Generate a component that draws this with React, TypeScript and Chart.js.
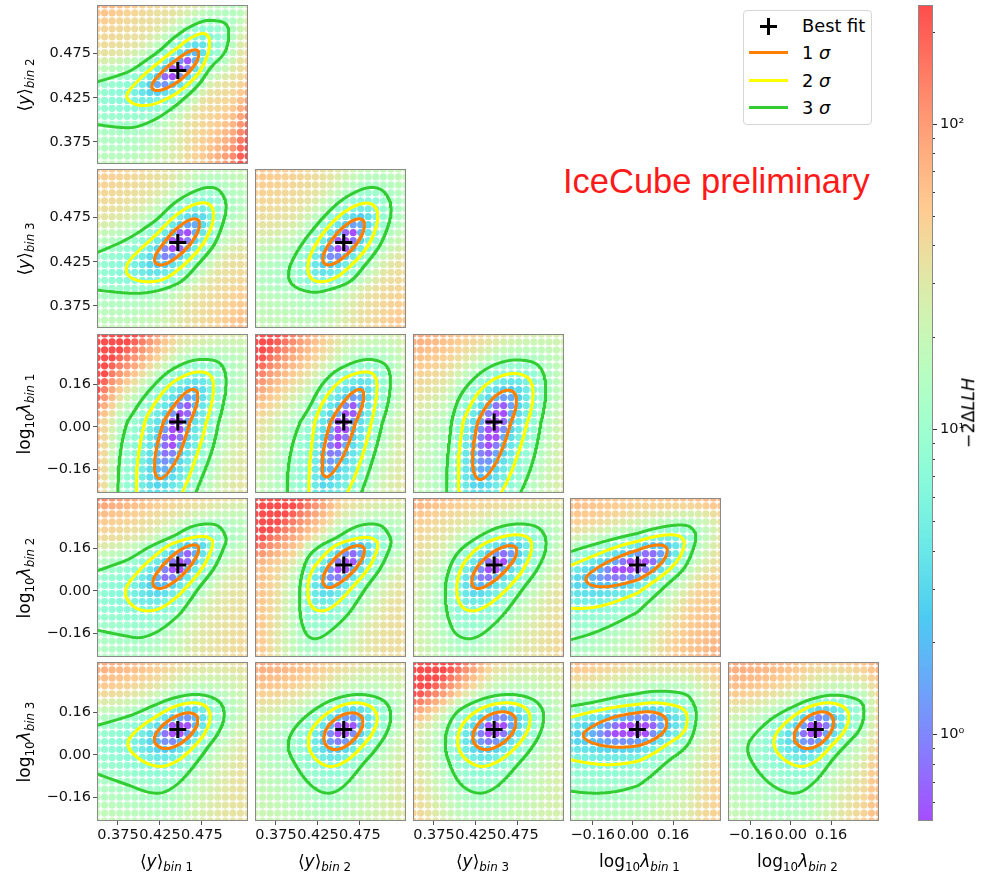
import React, { useEffect, useRef } from "react";
import { Chart, registerables } from "chart.js";

Chart.register(...registerables);

/* ---------------- scan parameters ---------------- */
// order: <y>bin1, <y>bin2, <y>bin3, log10 λ bin1, log10 λ bin2, log10 λ bin3
const paramKinds = ["y", "y", "y", "lambda", "lambda", "lambda"];
const paramBins = ["1", "2", "3", "1", "2", "3"];
const bestFit = [0.4463, 0.4558, 0.4467, 0.018, 0.097, 0.095];

const yMeanRange = [0.35, 0.53];
const logLambdaRange = [-0.25, 0.35];
const yMeanTicks = [0.375, 0.425, 0.475];
const yMeanTickLabels = ["0.375", "0.425", "0.475"];
const logLambdaTicks = [-0.16, 0, 0.16];
const logLambdaTickLabels = ["\u22120.16", "0.00", "0.16"];
const scanPointsPerAxis = 21;

// [x parameter, y parameter] of every panel, row by row
const panelPairs: [number, number][] = [
  [0, 1],
  [0, 2], [1, 2],
  [0, 3], [1, 3], [2, 3],
  [0, 4], [1, 4], [2, 4], [3, 4],
  [0, 5], [1, 5], [2, 5], [3, 5], [4, 5],
];

// reach of each confidence contour from the best fit: [left, right, down, up]
const sigma1Reach = [
  [0.031, 0.025, 0.0227, 0.0235],
  [0.0278, 0.0259, 0.0253, 0.0269],
  [0.025, 0.0247, 0.0253, 0.0269],
  [0.0278, 0.0238, 0.214, 0.123],
  [0.0259, 0.0238, 0.208, 0.123],
  [0.0257, 0.0267, 0.217, 0.12],
  [0.0298, 0.025, 0.0886, 0.0757],
  [0.025, 0.0247, 0.0848, 0.0731],
  [0.0266, 0.0271, 0.0886, 0.0731],
  [0.205, 0.119, 0.0821, 0.0757],
  [0.028, 0.0238, 0.0719, 0.0632],
  [0.0238, 0.0229, 0.0757, 0.0632],
  [0.0253, 0.026, 0.0757, 0.067],
  [0.215, 0.117, 0.0666, 0.067],
  [0.0842, 0.0727, 0.0719, 0.067],
];
const sigma2Reach = [
  [0.0608, 0.0381, 0.0397, 0.042],
  [0.0615, 0.0426, 0.0443, 0.0451],
  [0.0429, 0.0405, 0.0443, 0.0447],
  [0.0496, 0.0426, 0.36, 0.189],
  [0.0417, 0.0397, 0.352, 0.189],
  [0.0429, 0.0465, 0.36, 0.183],
  [0.0623, 0.0417, 0.173, 0.108],
  [0.0429, 0.0405, 0.173, 0.1045],
  [0.0445, 0.0449, 0.173, 0.114],
  [0.4, 0.186, 0.164, 0.114],
  [0.0596, 0.0387, 0.139, 0.101],
  [0.0423, 0.0398, 0.139, 0.101],
  [0.0435, 0.0429, 0.139, 0.101],
  [0.44, 0.198, 0.1325, 0.101],
  [0.165, 0.133, 0.139, 0.101],
];
const sigma3Reach = [
  [0.155, 0.0608, 0.0647, 0.0568],
  [0.131, 0.0577, 0.0575, 0.0625],
  [0.0659, 0.0565, 0.0563, 0.0625],
  [0.0715, 0.0577, 0.49, 0.236],
  [0.0676, 0.0557, 0.485, 0.236],
  [0.0567, 0.0616, 0.49, 0.234],
  [0.155, 0.0577, 0.274, 0.155],
  [0.0528, 0.0565, 0.278, 0.155],
  [0.0584, 0.062, 0.278, 0.155],
  [0.8, 0.232, 0.29, 0.151],
  [0.143, 0.0554, 0.24, 0.1325],
  [0.0664, 0.056, 0.24, 0.1325],
  [0.0584, 0.059, 0.24, 0.1325],
  [0.87, 0.234, 0.24, 0.145],
  [0.269, 0.1935, 0.24, 0.13],
];
// −2ΔLLH at the panel edges on the best-fit row / column: [left, right, bottom, top]
const edgeLLH: (number | null)[][] = [
  [null, 50, 28, 35],
  [null, 28, 22, 30],
  [22, 25, 22, 28],
  [70, 28, null, 40],
  [40, 28, null, 30],
  [25, 28, null, 38],
  [null, 28, 20, 50],
  [70, 25, 20, 45],
  [35, 30, 20, 50],
  [null, 40, 22, 50],
  [null, 28, 20, 45],
  [20, 25, 20, 45],
  [35, 25, 20, 45],
  [null, 35, 20, 45],
  [18, 45, 20, 50],
];
// −2ΔLLH in the panel corners: [top-left, top-right, bottom-left, bottom-right]
// (saturated red corners lie above the colour-scale maximum)
const cornerLLH = [
  [80, 24, 28, 400],
  [55, 25, 22, 70],
  [60, 22, 20, 60],
  [3000, 28, 60, 35],
  [700, 30, 22, 35],
  [90, 28, 22, 30],
  [130, 35, 22, 45],
  [3000, 35, 60, 40],
  [90, 40, 28, 45],
  [70, 80, 20, 80],
  [90, 40, 22, 35],
  [90, 40, 22, 30],
  [1500, 40, 50, 25],
  [70, 70, 20, 50],
  [90, 90, 22, 70],
];
// correlation of the inner (1σ) and outer (3σ) contours
const tilt1 = [0.82, 0.78, 0.75, 0.78, 0.8, 0.65, 0.78, 0.72, 0.72, 0.7, 0.55, 0.45, 0.4, 0.35, 0.4];
const tilt3 = [0.72, 0.65, 0.6, 0.55, 0.55, 0.45, 0.62, 0.58, 0.5, 0.65, 0.4, 0.35, 0.3, 0.35, 0.45];

const sigmaLevels = [2.3, 6.18, 11.83];
const sigmaNames = ["1", "2", "3"];
const sigmaColors = ["#ff8000", "#ffff00", "#33cc33"];

const colorbarRange = [0.52, 245];
const colorbarMajor = [1, 10, 100];
const colorbarMajorLabels = ["10\u2070", "10\u00b9", "10\u00b2"];
const colorbarMinor = [0.6, 0.7, 0.8, 0.9, 2, 3, 4, 5, 6, 7, 8, 9, 20, 30, 40, 50, 60, 70, 80, 90, 200];

/* ---------------- layout ---------------- */
const COL_LEFT = [97, 255, 413, 570, 728];
const ROW_TOP = [5, 169, 334, 498, 662];
const PANEL_W = 151;
const PANEL_H = 159;
const X_AXIS_H = 32;
const CB_LEFT = 918;
const CB_TOP = 5;
const CB_BAR_W = 15;
const CB_W = 60;
const CB_H = 816;
const FONT = "'DejaVu Sans', sans-serif";

/* ---------------- helpers ---------------- */
const rangeOf = (i: number) => (paramKinds[i] === "y" ? yMeanRange : logLambdaRange);
const ticksOf = (i: number) => (paramKinds[i] === "y" ? yMeanTicks : logLambdaTicks);
const tickLabelsOf = (i: number) => (paramKinds[i] === "y" ? yMeanTickLabels : logLambdaTickLabels);

const R_LEVELS = sigmaLevels.map((l) => Math.sqrt(l / sigmaLevels[0]));

function llhColor(v: number) {
  const lo = Math.log10(colorbarRange[0]);
  const hi = Math.log10(colorbarRange[1]);
  const c = Math.min(1, Math.max(0, (Math.log10(Math.max(v, 1e-9)) - lo) / (hi - lo)));
  // matplotlib "rainbow" colormap, drawn at 70 % opacity on white
  const r = Math.min(1, Math.abs(2 * c - 0.5));
  const g = Math.sin(Math.PI * c);
  const b = Math.cos((Math.PI * c) / 2);
  const mix = (t: number) => Math.round((0.7 * t + 0.3) * 255);
  return `rgb(${mix(r)},${mix(g)},${mix(b)})`;
}

function tiltAt(ue: number, ve: number, t1: number, t3: number) {
  const r = Math.sqrt(Math.max(0, (ue * ue - 2 * t1 * ue * ve + ve * ve) / (1 - t1 * t1)));
  const a = Math.min(1, Math.max(0, (r - 1) / (R_LEVELS[2] - 1)));
  let rho = t1 + (t3 - t1) * a;
  if (r > 4) rho *= Math.exp(-((r - 4) ** 2) / 10);
  return rho;
}

// monotone cubic (Fritsch–Carlson) profile through the contour reaches
function monotoneProfile(xs: number[], ys: number[]) {
  const n = xs.length;
  const h: number[] = [];
  const d: number[] = [];
  for (let i = 0; i < n - 1; i++) {
    h.push(xs[i + 1] - xs[i]);
    d.push((ys[i + 1] - ys[i]) / h[i]);
  }
  const m = new Array(n).fill(0);
  m[0] = d[0];
  m[n - 1] = d[n - 2];
  for (let i = 1; i < n - 1; i++) {
    if (d[i - 1] * d[i] <= 0) m[i] = 0;
    else {
      const w1 = 2 * h[i] + h[i - 1];
      const w2 = h[i] + 2 * h[i - 1];
      m[i] = (w1 + w2) / (w1 / d[i - 1] + w2 / d[i]);
    }
  }
  return (x: number) => {
    if (x >= xs[n - 1]) return ys[n - 1] + m[n - 1] * (x - xs[n - 1]);
    let i = 0;
    while (x > xs[i + 1]) i++;
    const t = (x - xs[i]) / h[i];
    const t2 = t * t;
    const t3 = t2 * t;
    return (
      (2 * t3 - 3 * t2 + 1) * ys[i] +
      (t3 - 2 * t2 + t) * h[i] * m[i] +
      (-2 * t3 + 3 * t2) * ys[i + 1] +
      (t3 - t2) * h[i] * m[i + 1]
    );
  };
}

// −2ΔLLH surface of one panel
function buildSurface(p: number) {
  const [xi, yi] = panelPairs[p];
  const bx = bestFit[xi];
  const by = bestFit[yi];
  const xr = rangeOf(xi);
  const yr = rangeOf(yi);
  const edgeDist = [bx - xr[0], xr[1] - bx, by - yr[0], yr[1] - by];
  const t1 = tilt1[p];
  const t3 = tilt3[p];
  const profiles = [0, 1, 2, 3].map((side) => {
    const d1 = sigma1Reach[p][side];
    const d2 = sigma2Reach[p][side];
    const d3 = sigma3Reach[p][side];
    const xs = [0, d1, d2, d3];
    const ys = [0, R_LEVELS[0], R_LEVELS[1], R_LEVELS[2]];
    const e = edgeLLH[p][side];
    if (e !== null && edgeDist[side] > d3 * 1.05) {
      let u = 3;
      for (let k = 0; k < 40; k++) {
        const rho = tiltAt(u, 0, t1, t3);
        u = 0.5 * u + 0.5 * Math.sqrt((e / sigmaLevels[0]) * (1 - rho * rho));
      }
      const minU = R_LEVELS[2] + (0.3 * (R_LEVELS[2] - R_LEVELS[1]) * (edgeDist[side] - d3)) / (d3 - d2);
      xs.push(edgeDist[side]);
      ys.push(Math.max(u, minU));
    }
    return monotoneProfile(xs, ys);
  });
  const base = (x: number, y: number) => {
    const dx = x - bx;
    const dy = y - by;
    const ue = dx < 0 ? -profiles[0](-dx) : profiles[1](dx);
    const ve = dy < 0 ? -profiles[2](-dy) : profiles[3](dy);
    const rho = tiltAt(ue, ve, t1, t3);
    return (sigmaLevels[0] * (ue * ue - 2 * rho * ue * ve + ve * ve)) / (1 - rho * rho);
  };
  // log-ratio between the corner readings and the base surface, applied outside the 3σ region only
  const cornerX = [xr[0], xr[1], xr[0], xr[1]];
  const cornerY = [yr[1], yr[1], yr[0], yr[0]];
  const outer = sigmaLevels[2];
  const cornerLog = cornerLLH[p].map((v, k) => Math.log(v / base(cornerX[k], cornerY[k])));
  return (x: number, y: number) => {
    const dx = x - bx;
    const dy = y - by;
    const b0 = base(x, y);
    if (b0 <= outer) return b0;
    const s = Math.min(1, Math.abs(dx) / (dx < 0 ? edgeDist[0] : edgeDist[1]));
    const t = Math.min(1, Math.abs(dy) / (dy < 0 ? edgeDist[2] : edgeDist[3]));
    const k = (dy >= 0 ? 0 : 2) + (dx < 0 ? 0 : 1);
    const gate = Math.min(1, (b0 - outer) / 15);
    return b0 * Math.exp(gate * s * t * cornerLog[k]);
  };
}

function traceContour(surface: (x: number, y: number) => number, bx: number, by: number, sx: number, sy: number, level: number) {
  const pts: { x: number; y: number }[] = [];
  const N = 360;
  const maxR = 700;
  for (let k = 0; k <= N; k++) {
    const th = (2 * Math.PI * k) / N;
    const cx = Math.cos(th) * sx;
    const cy = Math.sin(th) * sy;
    let lo = 0;
    let hi = -1;
    for (let r = 1.5; r <= maxR; r += 1.5) {
      if (surface(bx + r * cx, by + r * cy) >= level) {
        hi = r;
        break;
      }
      lo = r;
    }
    if (hi < 0) hi = maxR;
    else {
      for (let it = 0; it < 14; it++) {
        const mid = 0.5 * (lo + hi);
        if (surface(bx + mid * cx, by + mid * cy) >= level) hi = mid;
        else lo = mid;
      }
    }
    pts.push({ x: bx + hi * cx, y: by + hi * cy });
  }
  return pts;
}

const framePlugin = {
  id: "panelFrame",
  afterDraw(chart: any) {
    const { ctx, chartArea: a } = chart;
    ctx.save();
    ctx.strokeStyle = "#8a8a8a";
    ctx.lineWidth = 1;
    ctx.strokeRect(Math.round(a.left) + 0.5, Math.round(a.top) + 0.5, Math.round(a.right - a.left) - 1, Math.round(a.bottom - a.top) - 1);
    ctx.restore();
  },
};

function axisOptions(i: number, show: boolean, horizontal: boolean) {
  const r = rangeOf(i);
  const ticks = ticksOf(i);
  const labels = tickLabelsOf(i);
  const opts: any = {
    type: "linear",
    min: r[0],
    max: r[1],
    display: show,
    position: horizontal ? "bottom" : "left",
    grid: { display: true, drawOnChartArea: false, drawTicks: true, tickLength: 4, color: "#555", lineWidth: 1 },
    border: { display: false },
    ticks: {
      autoSkip: false,
      maxRotation: 0,
      minRotation: 0,
      padding: 2,
      color: "#111",
      font: { family: FONT, size: 14.5 },
      callback: (v: number) => {
        const k = ticks.findIndex((t) => Math.abs(t - v) < 1e-9);
        return k >= 0 ? labels[k] : "";
      },
    },
    afterBuildTicks: (s: any) => {
      s.ticks = ticks.map((v) => ({ value: v }));
    },
  };
  if (show) {
    opts.afterFit = (s: any) => {
      if (horizontal) {
        s.height = X_AXIS_H;
        s.paddingLeft = 0;
        s.paddingRight = 0;
      } else {
        s.width = COL_LEFT[0];
        s.paddingTop = 0;
        s.paddingBottom = 0;
      }
    };
  }
  return opts;
}

function Panel({ p, row, col }: { p: number; row: number; col: number }) {
  const ref = useRef<HTMLCanvasElement>(null);
  const showY = col === 0;
  const showX = row === 4;
  const left = showY ? 0 : COL_LEFT[col];
  const width = COL_LEFT[col] + PANEL_W - left;
  const top = ROW_TOP[row];
  const height = PANEL_H + (showX ? X_AXIS_H : 0);

  useEffect(() => {
    const [xi, yi] = panelPairs[p];
    const xr = rangeOf(xi);
    const yr = rangeOf(yi);
    const bx = bestFit[xi];
    const by = bestFit[yi];
    const surface = buildSurface(p);

    const dots: { x: number; y: number }[] = [];
    const colors: string[] = [];
    for (let a = 0; a < scanPointsPerAxis; a++) {
      for (let b = 0; b < scanPointsPerAxis; b++) {
        const x = xr[0] + ((xr[1] - xr[0]) * a) / (scanPointsPerAxis - 1);
        const y = yr[0] + ((yr[1] - yr[0]) * b) / (scanPointsPerAxis - 1);
        dots.push({ x, y });
        colors.push(llhColor(surface(x, y)));
      }
    }

    const sx = (xr[1] - xr[0]) / PANEL_W;
    const sy = (yr[1] - yr[0]) / PANEL_H;
    const contourSets = sigmaLevels.map((level, k) => ({
      data: traceContour(surface, bx, by, sx, sy, level),
      showLine: true,
      borderColor: sigmaColors[k],
      borderWidth: 3,
      pointRadius: 0,
      tension: 0,
      borderJoinStyle: "round",
      borderCapStyle: "round",
      order: k + 1,
      clip: 0,
    }));

    const chart = new Chart(ref.current as HTMLCanvasElement, {
      type: "scatter",
      data: {
        datasets: [
          {
            data: dots,
            pointRadius: 3.6,
            pointHoverRadius: 3.6,
            pointBorderWidth: 0,
            pointBackgroundColor: colors,
            order: 10,
            clip: 0,
          },
          ...contourSets,
          {
            data: [{ x: bx, y: by }],
            pointStyle: "cross",
            pointRadius: 8.5,
            pointHoverRadius: 8.5,
            pointBorderWidth: 3,
            pointBorderColor: "#000",
            pointBackgroundColor: "#000",
            order: 0,
            clip: false,
          },
        ] as any,
      },
      options: {
        animation: false,
        responsive: false,
        maintainAspectRatio: false,
        devicePixelRatio: 1,
        events: [],
        layout: { padding: 0, autoPadding: false },
        plugins: { legend: { display: false }, tooltip: { enabled: false } },
        scales: {
          x: axisOptions(xi, showX, true),
          y: axisOptions(yi, showY, false),
        } as any,
      },
      plugins: [framePlugin],
    });
    return () => chart.destroy();
  }, [p]);

  return <canvas ref={ref} width={width} height={height} style={{ position: "absolute", left, top, width, height }} />;
}

const colorbarPlugin = {
  id: "colorbarFill",
  beforeDraw(chart: any) {
    const { ctx, chartArea: a } = chart;
    const y = chart.scales.y;
    for (let py = Math.floor(a.top); py < Math.ceil(a.bottom); py++) {
      ctx.fillStyle = llhColor(y.getValueForPixel(py + 0.5));
      ctx.fillRect(a.left, py, a.right - a.left, 1);
    }
  },
  afterDraw(chart: any) {
    const { ctx, chartArea: a } = chart;
    const y = chart.scales.y;
    ctx.save();
    ctx.strokeStyle = "#8a8a8a";
    ctx.lineWidth = 1;
    ctx.strokeRect(Math.round(a.left) + 0.5, Math.round(a.top) + 0.5, Math.round(a.right - a.left) - 1, Math.round(a.bottom - a.top) - 1);
    ctx.strokeStyle = "#333";
    const mark = (v: number, len: number) => {
      const py = Math.round(y.getPixelForValue(v)) + 0.5;
      ctx.beginPath();
      ctx.moveTo(a.right, py);
      ctx.lineTo(a.right + len, py);
      ctx.stroke();
    };
    colorbarMajor.forEach((v) => mark(v, 4));
    colorbarMinor.forEach((v) => mark(v, 2));
    ctx.restore();
  },
};

function Colorbar() {
  const ref = useRef<HTMLCanvasElement>(null);
  useEffect(() => {
    const chart = new Chart(ref.current as HTMLCanvasElement, {
      type: "scatter",
      data: { datasets: [] },
      options: {
        animation: false,
        responsive: false,
        maintainAspectRatio: false,
        devicePixelRatio: 1,
        events: [],
        layout: { padding: 0, autoPadding: false },
        plugins: { legend: { display: false }, tooltip: { enabled: false } },
        scales: {
          x: { display: false, min: 0, max: 1 },
          y: {
            type: "logarithmic",
            position: "right",
            min: colorbarRange[0],
            max: colorbarRange[1],
            grid: { display: false, drawTicks: false, tickLength: 0 },
            border: { display: false },
            ticks: {
              autoSkip: false,
              padding: 7,
              color: "#111",
              font: { family: FONT, size: 14.5 },
              callback: (v: number) => {
                const k = colorbarMajor.findIndex((t) => Math.abs(t - v) < 1e-6 * t);
                return k >= 0 ? colorbarMajorLabels[k] : "";
              },
            },
            afterBuildTicks: (s: any) => {
              s.ticks = [...colorbarMinor, ...colorbarMajor].sort((a, b) => a - b).map((v) => ({ value: v }));
            },
            afterFit: (s: any) => {
              s.width = CB_W - CB_BAR_W;
              s.paddingTop = 0;
              s.paddingBottom = 0;
            },
          },
        } as any,
      },
      plugins: [colorbarPlugin],
    });
    return () => chart.destroy();
  }, []);
  return <canvas ref={ref} width={CB_W} height={CB_H} style={{ position: "absolute", left: CB_LEFT, top: CB_TOP, width: CB_W, height: CB_H }} />;
}

function ParamTitle({ i }: { i: number }) {
  const subStyle: React.CSSProperties = { fontSize: "0.7em", position: "relative", top: "0.35em" };
  const sub = (
    <span style={subStyle}>
      <i>bin</i> {paramBins[i]}
    </span>
  );
  if (paramKinds[i] === "y") {
    return (
      <span>
        {"\u27e8"}
        <i>y</i>
        {"\u27e9"}
        {sub}
      </span>
    );
  }
  return (
    <span>
      log<span style={subStyle}>10</span>
      <i>{"\u03bb"}</i>
      {sub}
    </span>
  );
}

export default function App() {
  const panels: { p: number; row: number; col: number }[] = [];
  let p = 0;
  for (let row = 0; row < 5; row++) {
    for (let col = 0; col <= row; col++) panels.push({ p: p++, row, col });
  }
  const textBase: React.CSSProperties = { position: "absolute", fontFamily: FONT, color: "#000", whiteSpace: "nowrap", lineHeight: 1 };

  return (
    <div style={{ position: "absolute", left: 0, top: 0, width: 984, height: 877, background: "#fff", overflow: "hidden" }}>
      {panels.map((q) => (
        <Panel key={q.p} p={q.p} row={q.row} col={q.col} />
      ))}
      <Colorbar />

      {[0, 1, 2, 3, 4].map((c) => (
        <div key={"xt" + c} style={{ ...textBase, fontSize: 17, left: COL_LEFT[c] + PANEL_W / 2 - 6, top: 861, transform: "translate(-50%, -50%)" }}>
          <ParamTitle i={c} />
        </div>
      ))}
      {[0, 1, 2, 3, 4].map((r) => (
        <div key={"yt" + r} style={{ ...textBase, fontSize: 17, left: 24, top: ROW_TOP[r] + PANEL_H / 2, transform: "translate(-50%, -50%) rotate(-90deg)" }}>
          <ParamTitle i={r + 1} />
        </div>
      ))}

      <div style={{ ...textBase, fontSize: 17.5, left: 969, top: 413, transform: "translate(-50%, -50%) rotate(-90deg)" }}>
        {"\u22122\u0394"}
        <i>LLH</i>
      </div>

      <div style={{ ...textBase, fontFamily: "'Liberation Sans', Arial, sans-serif", fontSize: 34.5, color: "#ff1a1a", left: 563, top: 163.5 }}>
        IceCube preliminary
      </div>

      <div style={{ position: "absolute", left: 743, top: 10, width: 129, height: 115, border: "1px solid #d6d6d6", borderRadius: 4, background: "#fff", boxSizing: "border-box" }} />
      <div style={{ position: "absolute", left: 760, top: 24.5, width: 17, height: 3, background: "#000" }} />
      <div style={{ position: "absolute", left: 767, top: 17.5, width: 3, height: 17, background: "#000" }} />
      <div style={{ ...textBase, fontSize: 17.8, left: 802, top: 17.3 }}>Best fit</div>
      {sigmaNames.map((name, k) => (
        <React.Fragment key={"lg" + k}>
          <div style={{ position: "absolute", left: 749, top: 51 + k * 27.7, width: 39, height: 3, background: sigmaColors[k] }} />
          <div style={{ ...textBase, fontSize: 17.8, left: 802, top: 43.8 + k * 27.7 }}>
            {name} <i>{"\u03c3"}</i>
          </div>
        </React.Fragment>
      ))}
    </div>
  );
}
